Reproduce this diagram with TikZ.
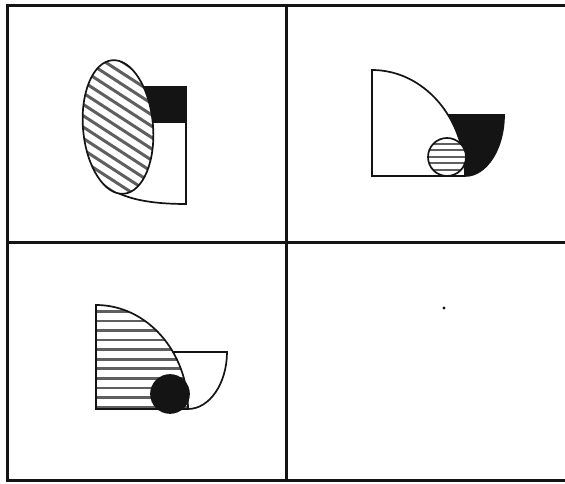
\documentclass[tikz,border=0pt]{standalone}
\usetikzlibrary{calc}
\definecolor{ink}{RGB}{20,20,20}
\definecolor{shade}{RGB}{95,95,95}
\tikzset{
  panelline/.style={draw=ink,line width=3pt},
  shapeline/.style={draw=ink,line width=1.7pt,fill=white},
  inkfill/.style={draw=ink,line width=1.7pt,fill=ink},
  hatch/.style={draw=shade,line width=#1},
  hatch/.default=3pt,
}

\begin{document}
\begin{tikzpicture}[x=1pt,y=1pt]
  \useasboundingbox (0,0) rectangle (565,484);
  % grid of four panels
  \draw[panelline] (565,478.5) -- (7.5,478.5) -- (7.5,3) -- (565,3);
  \draw[panelline] (286,478.5) -- (286,3);
  \draw[panelline] (7.5,241) -- (565,241);

  % panel 1: striped ellipse over the block
  \draw[shapeline] (140,362) -- (186,362) -- (186,280) .. controls (150,280) and (128,285) .. (112,294) -- cycle;
  \draw[inkfill] (140,397) rectangle (186,362);
  \fill[white,rotate around={5:(118,357)}] (118,357) ellipse [x radius=35,y radius=67];
  \begin{scope}
    \clip[rotate around={5:(118,357)}] (118,357) ellipse [x radius=35,y radius=67];
    \foreach \k in {-8,...,8}
      \draw[hatch,rotate around={-33:(118,357)}] (30,357+\k*9.5) -- (206,357+\k*9.5);
  \end{scope}
  \draw[shapeline,fill=none,rotate around={5:(118,357)}] (118,357) ellipse [x radius=35,y radius=67];

  % panel 2: quarter, black piece, small striped disc
  \draw[inkfill] (425,369) -- (504,369) arc[start angle=0,end angle=-90,x radius=39,y radius=61] -- (425,308) -- cycle;
  \draw[shapeline] (372,308) -- (465,308) arc[start angle=0,end angle=90,x radius=93,y radius=106] -- cycle;
  \fill[white] (447,327) circle (19);
  \begin{scope}
    \clip (447,327) circle (19);
    \foreach \k in {-2,...,2}
      \draw[hatch=2pt] (420,327+\k*6.5) -- (470,327+\k*6.5);
  \end{scope}
  \draw[shapeline,fill=none] (447,327) circle (19);

  % panel 3: striped quarter, white piece, black disc
  \draw[shapeline] (160,132) -- (227,132) arc[start angle=0,end angle=-90,x radius=39,y radius=57] -- (160,75) -- cycle;
  \fill[white] (96,75) -- (188,75) arc[start angle=0,end angle=90,x radius=92,y radius=104] -- cycle;
  \begin{scope}
    \clip (96,75) -- (188,75) arc[start angle=0,end angle=90,x radius=92,y radius=104] -- cycle;
    \foreach \k in {0,...,10}
      \draw[hatch=2.6pt] (90,77+\k*9.55) -- (200,77+\k*9.55);
  \end{scope}
  \draw[shapeline,fill=none] (96,75) -- (188,75) arc[start angle=0,end angle=90,x radius=92,y radius=104] -- cycle;
  \draw[inkfill] (170,90) circle (19);

  % panel 4: empty
  \fill[ink] (444,176) circle (1.6);
\end{tikzpicture}
\end{document}
